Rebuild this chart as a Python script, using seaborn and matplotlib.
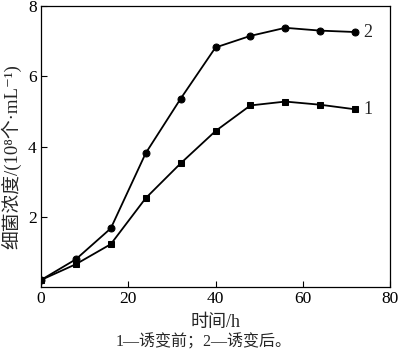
import matplotlib
matplotlib.use("Agg")
import matplotlib.pyplot as plt
import seaborn as sns
import pandas as pd

time_h = [0, 8, 16, 24, 32, 40, 48, 56, 64, 72]
before = [0.20, 0.65, 1.22, 2.53, 3.52, 4.44, 5.17, 5.28, 5.19, 5.06]
after = [0.20, 0.79, 1.67, 3.81, 5.36, 6.82, 7.15, 7.38, 7.30, 7.26]
series_labels = ["1", "2"]
x_ticks = [0, 20, 40, 60, 80]
y_ticks = [2, 4, 6, 8]

sns.set_theme(style="ticks")
plt.rcParams['font.family'] = ['Liberation Serif', 'Noto Sans CJK SC', 'DejaVu Sans']
plt.rcParams['axes.unicode_minus'] = False

df = pd.DataFrame({
    "t": time_h * 2,
    "v": before + after,
    "s": [series_labels[0]] * len(time_h) + [series_labels[1]] * len(time_h),
})

fig = plt.figure(figsize=(4.0, 3.55), dpi=100)
ax = fig.add_axes([0.1025, 0.1915, 0.8725, 0.7915])
sns.lineplot(data=df, x="t", y="v", hue="s", style="s",
             markers={"1": "s", "2": "o"}, dashes=False,
             palette={"1": "black", "2": "black"},
             markersize=5, linewidth=1.3, markeredgecolor="black",
             legend=False, ax=ax)

ax.set_xlim(0, 80)
ax.set_ylim(0, 8)
ax.set_xticks(x_ticks)
ax.set_yticks(y_ticks)
ax.tick_params(direction="in", length=4, width=0.8, labelsize=12.5, colors="black", pad=3)
for sp in ax.spines.values():
    sp.set_linewidth(0.9)
    sp.set_color("black")

ax.set_xlabel("时间/h", fontsize=13, fontweight="medium", labelpad=5)
ax.set_ylabel("细菌浓度/(10⁸个·mL⁻¹)", fontsize=13.5)
ax.yaxis.set_label_coords(-0.055, 0.465)

ax.text(time_h[-1] + 1.8, after[-1], series_labels[1], fontsize=13, va="center", ha="left")
ax.text(time_h[-1] + 1.8, before[-1], series_labels[0], fontsize=13, va="center", ha="left")

fig.text(0.51, 0.036, "1—诱变前；2—诱变后。", ha="center", va="center", fontsize=11.5)

fig.savefig("out.png", dpi=100)
